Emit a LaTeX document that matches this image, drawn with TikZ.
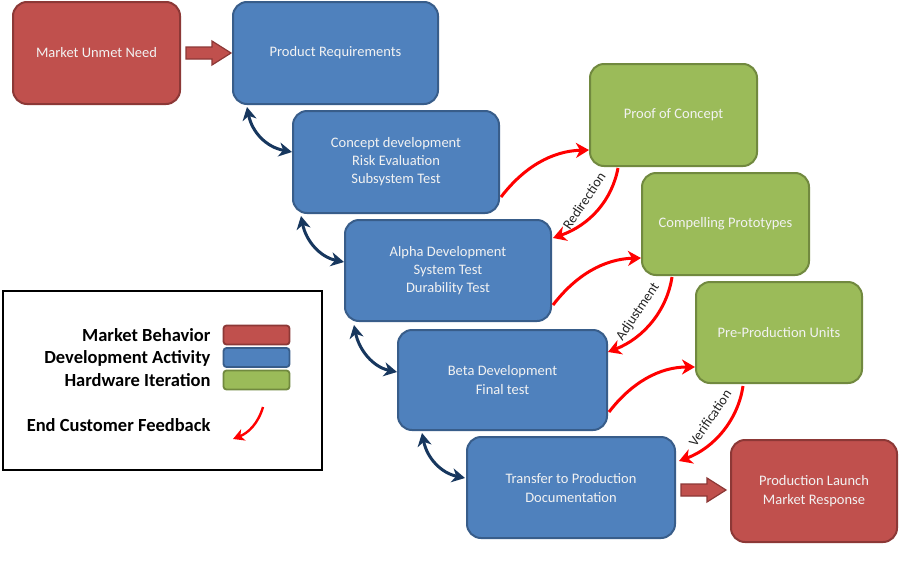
\documentclass[tikz,border=0pt]{standalone}
\usepackage{fontspec}
\setmainfont{Carlito}
\usetikzlibrary{arrows.meta}
\definecolor{redF}{HTML}{C0504D}
\definecolor{redB}{HTML}{8C3836}
\definecolor{bluF}{HTML}{4F81BD}
\definecolor{bluB}{HTML}{385D8A}
\definecolor{grnF}{HTML}{9BBB59}
\definecolor{grnB}{HTML}{71893F}
\definecolor{navy}{HTML}{17375E}
\definecolor{boxtxt}{HTML}{F2F2F2}
\tikzset{
  card/.style={rounded corners=14pt, line width=2pt},
  redcard/.style={card, fill=redF, draw=redB},
  blucard/.style={card, fill=bluF, draw=bluB},
  grncard/.style={card, fill=grnF, draw=grnB},
  cardtxt/.style={text=boxtxt, align=center, font=\fontsize{14.5}{18}\selectfont},
  twoway/.style={navy, line width=3pt, {Stealth[length=13pt,width=14pt,inset=4pt]}-{Stealth[length=13pt,width=14pt,inset=4pt]}},
  feedback/.style={red, line width=3pt, -{Stealth[length=13pt,width=15pt,inset=4pt]}},
  legtxt/.style={anchor=east, font=\bfseries\fontsize{18.5}{22}\selectfont, text=black},
  swatch/.style={rounded corners=3pt, line width=1.8pt, minimum width=66pt, minimum height=19pt},
  arrlbl/.style={font=\fontsize{14}{16}\selectfont, text=black!85, rotate=56},
  blockarrow/.style={fill=redF, draw=redB, line width=1.2pt}
}
\begin{document}
\begin{tikzpicture}[x=1pt,y=-1pt]
\useasboundingbox[fill=white] (0,0) rectangle (900,560);

% main boxes
\path[redcard] (13,2) rectangle (180,104);
\node[cardtxt] (mun) at (96.5,53) {Market Unmet Need};
\path[blucard] (233,2) rectangle (438,104);
\node[cardtxt] (preq) at (335.5,53) {Product Requirements};
\path[blucard] (293,111) rectangle (499,213);
\node[cardtxt] (conc) at (396,162) {Concept development\\Risk Evaluation\\Subsystem Test};
\path[blucard] (345,220) rectangle (551,321);
\node[cardtxt] (alpha) at (448,271) {Alpha Development\\System Test\\Durability Test};
\path[blucard] (398,330) rectangle (607,430);
\node[cardtxt, font=\fontsize{14.5}{19}\selectfont] (beta) at (502.5,380) {Beta Development\\Final test};
\path[blucard] (467,437) rectangle (675,538);
\node[cardtxt, font=\fontsize{14.5}{19}\selectfont] (trans) at (571,488.5) {Transfer to Production\\Documentation};
\path[redcard] (731,440) rectangle (897,542);
\node[cardtxt, font=\fontsize{14.5}{19}\selectfont] (plaunch) at (814,491.5) {Production Launch\\Market Response};
\path[grncard] (590,64) rectangle (757,166);
\node[cardtxt] (poc) at (673.5,115) {Proof of Concept};
\path[grncard] (642,173) rectangle (809,275);
\node[cardtxt] (cp) at (725.5,224) {Compelling Prototypes};
\path[grncard] (696,282) rectangle (862,383);
\node[cardtxt] (ppu) at (779,333) {Pre-Production Units};

% block arrows
\draw[blockarrow] (186,47) -- (212,47) -- (212,41) -- (231,53) -- (212,65) -- (212,59) -- (186,59) -- cycle;
\draw[blockarrow] (681,484) -- (707,484) -- (707,478) -- (726,490) -- (707,502) -- (707,496) -- (681,496) -- cycle;

% named anchor points
\coordinate (p1a) at (247,107); \coordinate (p1b) at (292,152);
\coordinate (p2a) at (301,216); \coordinate (p2b) at (344,262);
\coordinate (p3a) at (354,325); \coordinate (p3b) at (397,372);
\coordinate (p4a) at (422,433); \coordinate (p4b) at (465,478);

\draw[twoway] (p1a) .. controls (252,132) and (266,147) .. (p1b);
\draw[twoway] (p2a) .. controls (306,241) and (320,257) .. (p2b);
\draw[twoway] (p3a) .. controls (359,350) and (373,367) .. (p3b);
\draw[twoway] (p4a) .. controls (427,458) and (441,473) .. (p4b);

% red feedback arrows
\coordinate (r1a) at (501,197); \coordinate (r1b) at (589,150);
\coordinate (r2a) at (618,168); \coordinate (r2b) at (553,238);
\coordinate (r3a) at (553,305); \coordinate (r3b) at (641,258);
\coordinate (r4a) at (672,277); \coordinate (r4b) at (608,352);
\coordinate (r5a) at (609,412); \coordinate (r5b) at (695,367);
\coordinate (r6a) at (743,386); \coordinate (r6b) at (679,461);

\draw[feedback] (r1a) .. controls (524,167) and (552,151) .. (r1b);
\draw[feedback] (r2a) .. controls (612,200) and (590,225) .. (r2b);
\draw[feedback] (r3a) .. controls (576,275) and (604,259) .. (r3b);
\draw[feedback] (r4a) .. controls (667,310) and (644,338) .. (r4b);
\draw[feedback] (r5a) .. controls (632,382) and (660,367) .. (r5b);
\draw[feedback] (r6a) .. controls (738,420) and (714,448) .. (r6b);

\node[arrlbl] (lred) at (584,201) {Redirection};
\node[arrlbl] (ladj) at (638,312) {Adjustment};
\node[arrlbl] (lver) at (710,418) {Verification};

% legend
\draw[line width=2pt, fill=white] (3,291) rectangle (322,470);
\node[legtxt] (lmb) at (214,335) {Market Behavior};
\node[legtxt] (lda) at (214,358) {Development Activity};
\node[legtxt] (lhi) at (214,380) {Hardware Iteration};
\node[legtxt] (lecf) at (214,425) {End Customer Feedback};
\node[swatch, fill=redF, draw=redB] (sred) at (256.5,335) {};
\node[swatch, fill=bluF, draw=bluB] (sblu) at (256.5,357.5) {};
\node[swatch, fill=grnF, draw=grnB] (sgrn) at (256.5,380) {};
\coordinate (lfa) at (263,407); \coordinate (lfb) at (233,439);
\draw[red, line width=2.4pt, -{Stealth[length=11pt,width=12pt,inset=3pt]}] (lfa) .. controls (258,424) and (248,433) .. (lfb);
\end{tikzpicture}
\end{document}
